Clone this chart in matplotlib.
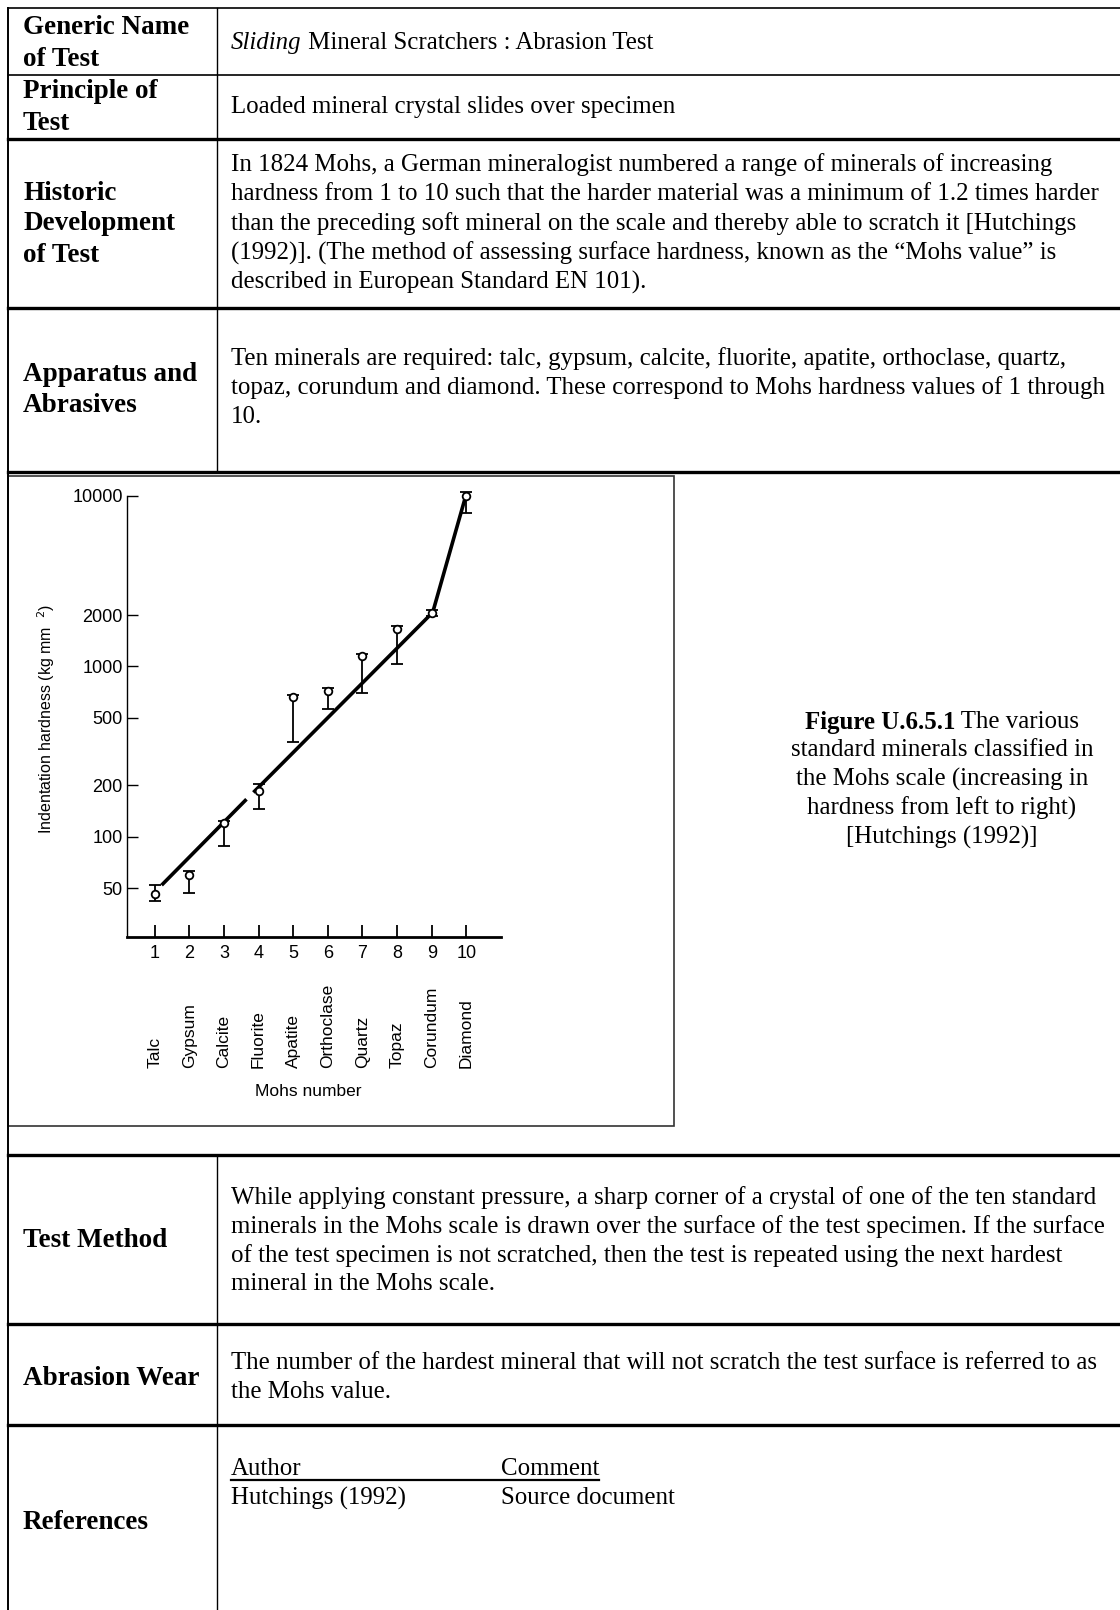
import matplotlib
matplotlib.use("Agg")
import matplotlib.pyplot as plt
from matplotlib.lines import Line2D
from matplotlib.patches import Rectangle
from matplotlib.ticker import FixedLocator, FixedFormatter, NullLocator

# chart data
mohs = [1, 2, 3, 4, 5, 6, 7, 8, 9, 10]
minerals = ["Talc", "Gypsum", "Calcite", "Fluorite", "Apatite", "Orthoclase",
            "Quartz", "Topaz", "Corundum", "Diamond"]
hardness = [46, 60, 120, 185, 660, 720, 1150, 1650, 2050, 10000]
err_low = [42, 47, 88, 145, 360, 560, 700, 1030, 1980, 8000]
err_high = [52, 63, 124, 205, 680, 745, 1190, 1720, 2130, 10600]
fit_a_x, fit_a_y = [1.2, 3.65], [52, 166]
fit_b_x, fit_b_y = [3.85, 8.95], [182, 2000]
fit_c_x, fit_c_y = [9.05, 9.95], [2150, 9500]
ytick_vals = [50, 100, 200, 500, 1000, 2000, 10000]

# table text
generic_label = ["Generic Name", "of Test"]
principle_label = ["Principle of", "Test"]
principle_text = "Loaded mineral crystal slides over specimen"
historic_label = ["Historic", "Development", "of Test"]
historic_text = [
    "In 1824 Mohs, a German mineralogist numbered a range of minerals of increasing",
    "hardness from 1 to 10 such that the harder material was a minimum of 1.2 times harder",
    "than the preceding soft mineral on the scale and thereby able to scratch it [Hutchings",
    "(1992)]. (The method of assessing surface hardness, known as the \u201cMohs value\u201d is",
    "described in European Standard EN 101).",
]
apparatus_label = ["Apparatus and", "Abrasives"]
apparatus_text = [
    "Ten minerals are required: talc, gypsum, calcite, fluorite, apatite, orthoclase, quartz,",
    "topaz, corundum and diamond. These correspond to Mohs hardness values of 1 through",
    "10.",
]
caption_lines = [
    "standard minerals classified in",
    "the Mohs scale (increasing in",
    "hardness from left to right)",
    "[Hutchings (1992)]",
]
method_text = [
    "While applying constant pressure, a sharp corner of a crystal of one of the ten standard",
    "minerals in the Mohs scale is drawn over the surface of the test specimen. If the surface",
    "of the test specimen is not scratched, then the test is repeated using the next hardest",
    "mineral in the Mohs scale.",
]
wear_text = [
    "The number of the hardest mineral that will not scratch the test surface is referred to as",
    "the Mohs value.",
]

W, H = 1120, 1610
fig = plt.figure(figsize=(W / 100, H / 100), dpi=100)
renderer = fig.canvas.get_renderer()

SERIF = "Liberation Serif"
SANS = "Liberation Sans"
BODY = 17.9
LABEL = 19.5


def fx(x):
    return x / W


def fy(y):
    return 1 - y / H


def hline(y, x0, x1, lw):
    fig.add_artist(Line2D([fx(x0), fx(x1)], [fy(y), fy(y)], lw=lw, color="black"))


def vline(x, y0, y1, lw):
    fig.add_artist(Line2D([fx(x), fx(x)], [fy(y0), fy(y1)], lw=lw, color="black"))


def put(x, y, s, **kw):
    kw.setdefault("family", SERIF)
    kw.setdefault("fontsize", BODY)
    kw.setdefault("va", "center")
    return fig.text(fx(x), fy(y), s, **kw)


def label_block(lines, ys):
    for s, y in zip(lines, ys):
        put(23, y, s, fontsize=LABEL, weight="bold")


def text_block(lines, ys):
    for s, y in zip(lines, ys):
        put(231, y, s)


# table grid
LEFT, DIV = 8, 217
hline(8, LEFT, W, 1.2)
hline(75, LEFT, W, 1.2)
for y in [139, 308, 472, 1155, 1324, 1425]:
    hline(y, LEFT, W, 2.4)
vline(LEFT, 8, H, 1.4)
vline(DIV, 8, 472, 1.0)
vline(DIV, 1155, H, 1.0)

# row 1
label_block(generic_label, [28, 59])
t = put(231, 43, "Sliding", style="italic")
bb = t.get_window_extent(renderer)
put(231 + bb.width, 43, " Mineral Scratchers : Abrasion Test")

# row 2
label_block(principle_label, [91, 123])
put(231, 107, principle_text)

# row 3
label_block(historic_label, [193, 224, 256])
text_block(historic_text, [165, 194, 224, 253, 282])

# row 4
label_block(apparatus_label, [374, 406])
text_block(apparatus_text, [359, 388, 417])

# figure box
fig.add_artist(Rectangle((fx(8), fy(1126)), fx(674 - 8), (1126 - 476) / H,
                         fill=False, lw=1.2, edgecolor="#333333"))

# caption
cx = 942
t1 = fig.text(0, 0, "Figure U.6.5.1", family=SERIF, fontsize=BODY, weight="bold")
t2 = fig.text(0, 0, " The various", family=SERIF, fontsize=BODY)
w1 = t1.get_window_extent(renderer).width
w2 = t2.get_window_extent(renderer).width
x0 = cx - (w1 + w2) / 2
for tt, xx in [(t1, x0), (t2, x0 + w1)]:
    tt.set_position((fx(xx), fy(722)))
    tt.set_va("center")
for s, y in zip(caption_lines, [750, 779, 808, 837]):
    put(cx, y, s, ha="center")

# chart
ax = fig.add_axes([fx(127), fy(937), fx(501 - 127), (937 - 496) / H])
ax.set_yscale("log")
ax.set_xlim(0.2, 11)
ax.set_ylim(25.8, 10000)
for sp in ["top", "right"]:
    ax.spines[sp].set_visible(False)
ax.spines["left"].set_linewidth(1.0)
ax.spines["bottom"].set_linewidth(2.0)

lo = [h - l for h, l in zip(hardness, err_low)]
hi = [u - h for h, u in zip(hardness, err_high)]
ax.errorbar(mohs, hardness, yerr=[lo, hi], fmt="o", ms=5.5, mfc="white", mec="black",
            mew=1.3, ecolor="black", elinewidth=1.3, capsize=4, capthick=1.6,
            clip_on=False, zorder=3)
for xs, ys in [(fit_a_x, fit_a_y), (fit_b_x, fit_b_y), (fit_c_x, fit_c_y)]:
    ax.plot(xs, ys, color="black", lw=2.6, solid_capstyle="butt", zorder=2)

ax.yaxis.set_major_locator(FixedLocator(ytick_vals))
ax.yaxis.set_major_formatter(FixedFormatter([str(v) for v in ytick_vals]))
ax.yaxis.set_minor_locator(NullLocator())
ax.set_xticks(mohs)
ax.set_xticklabels([str(m) for m in mohs])
ax.tick_params(axis="y", direction="in", length=8, width=1.0, pad=3, labelsize=13)
ax.tick_params(axis="x", direction="in", length=9, width=1.3, pad=6, labelsize=13)
for lab in ax.get_xticklabels() + ax.get_yticklabels():
    lab.set_family(SANS)

for m, name in zip(mohs, minerals):
    ax.text(m, -0.298, name, transform=ax.get_xaxis_transform(), rotation=90,
            ha="center", va="bottom", fontsize=12.5, family=SANS)

fig.text(fx(308), fy(1091), "Mohs number", ha="center", va="center",
         fontsize=12.5, family=SANS)
fig.text(fx(46), fy(719), "Indentation hardness (kg mm  $^{2}$)", rotation=90,
         ha="center", va="center", fontsize=11.5, family=SANS)

# test method
label_block(["Test Method"], [1240])
text_block(method_text, [1198, 1227, 1256, 1284])

# abrasion wear
label_block(["Abrasion Wear"], [1378])
text_block(wear_text, [1363, 1392])

# references
label_block(["References"], [1522])
put(231, 1469, "Author")
put(501, 1469, "Comment")
hline(1480, 231, 599, 1.6)
put(231, 1498, "Hutchings (1992)")
put(501, 1498, "Source document")

fig.savefig("out.png", dpi=100)
